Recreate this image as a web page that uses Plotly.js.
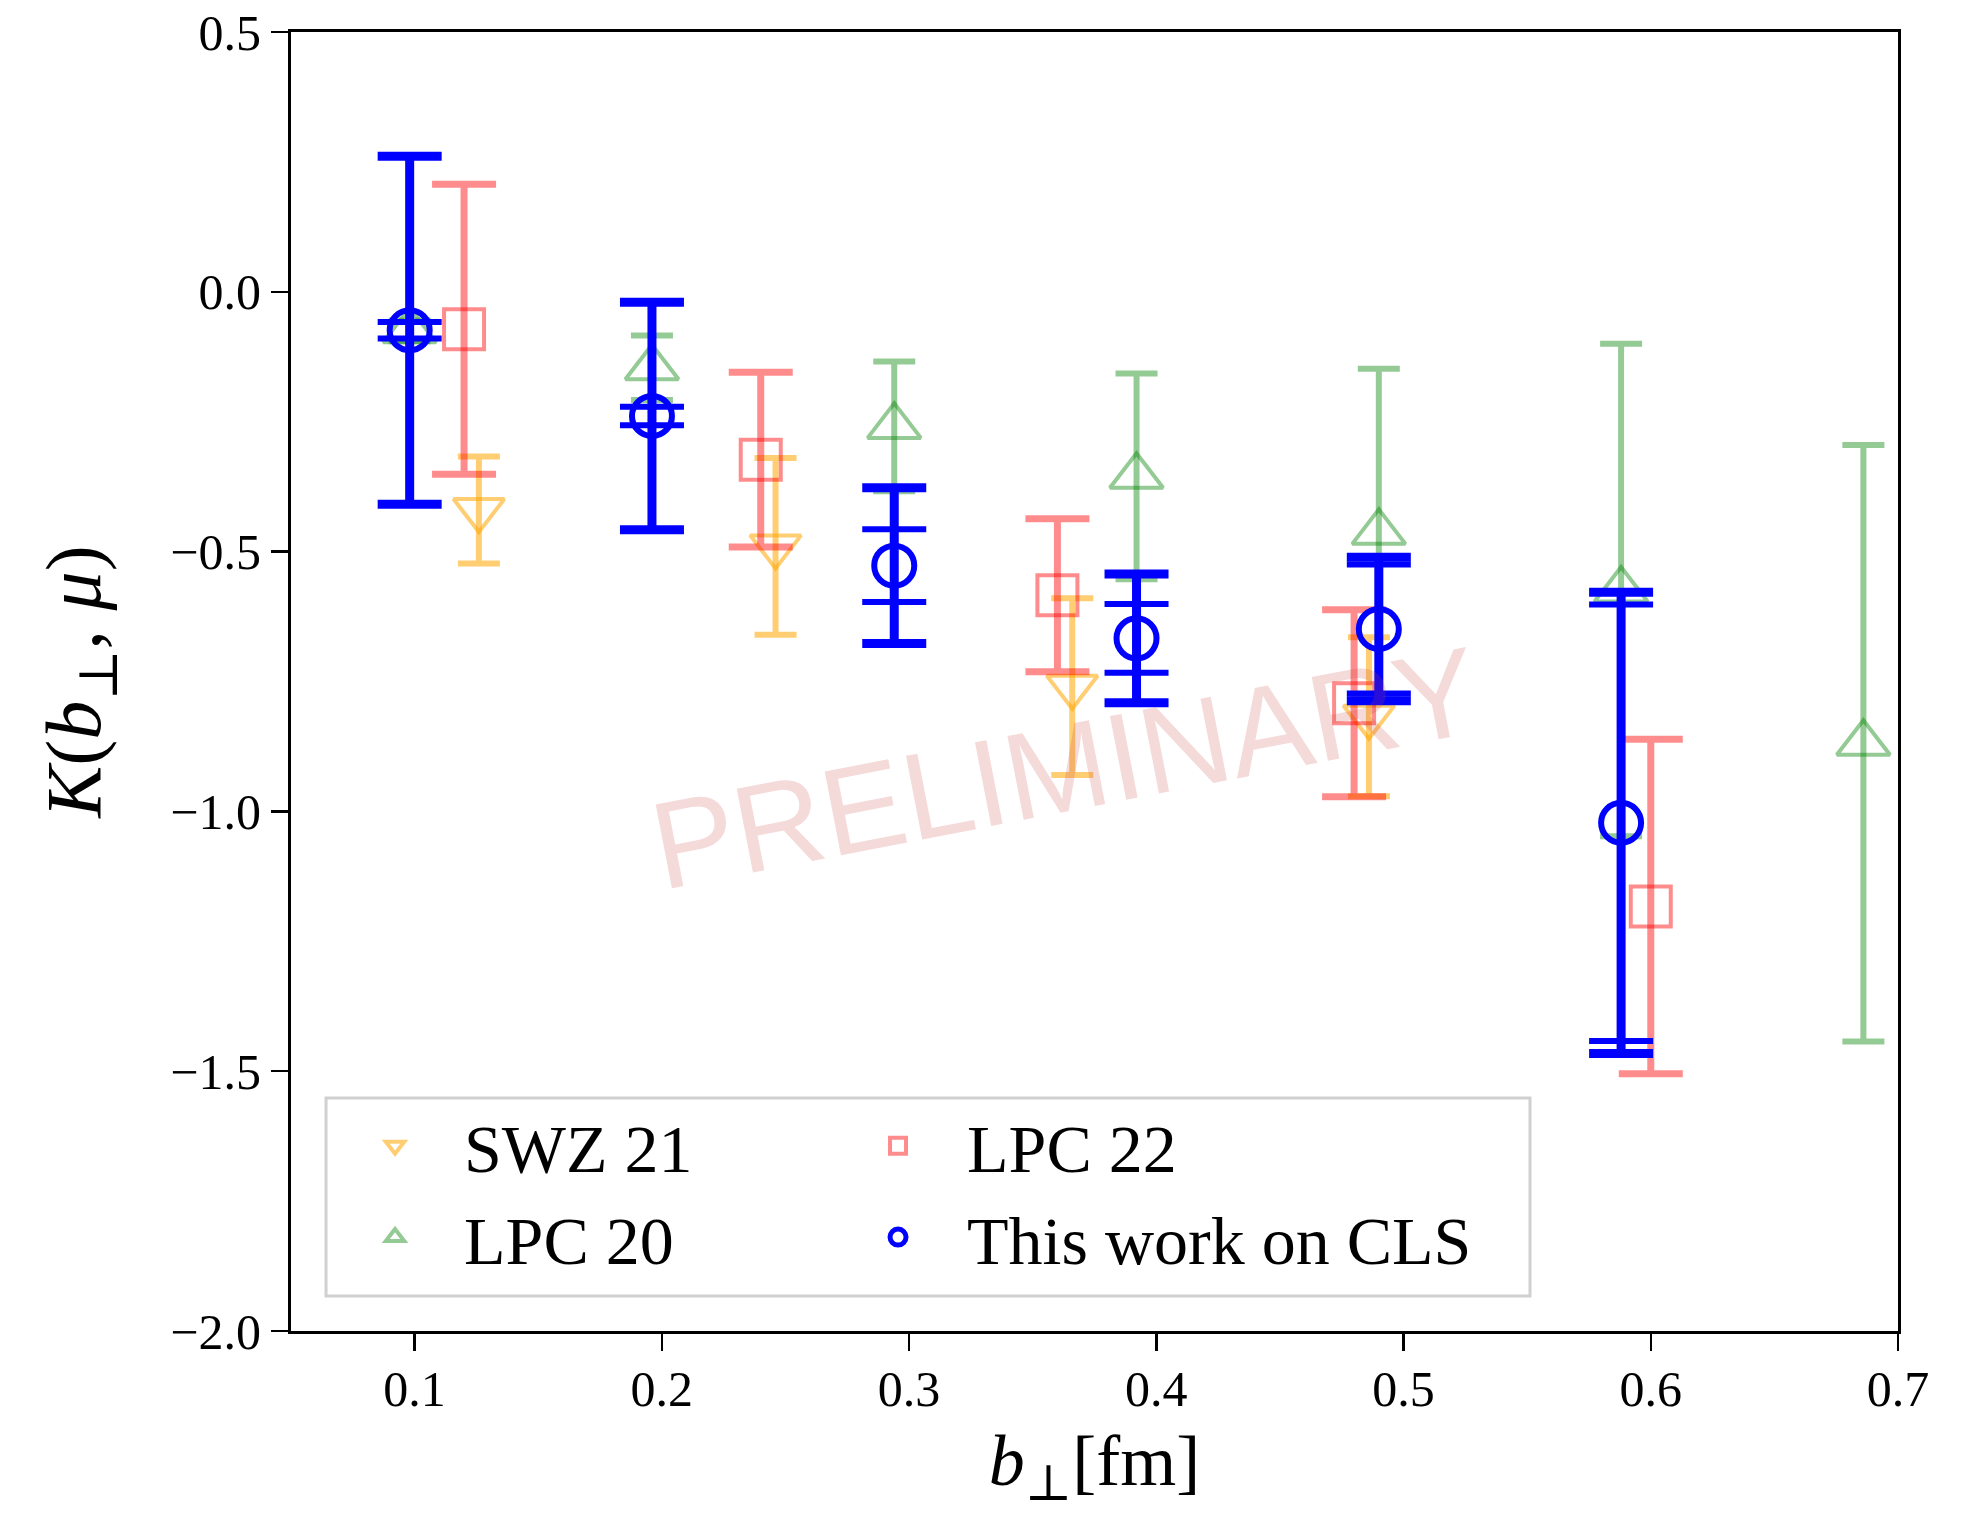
<!DOCTYPE html>
<html>
<head>
<meta charset="utf-8">
<script src="https://cdn.plot.ly/plotly-3.0.1.min.js"></script>
<style>
  html, body { margin: 0; padding: 0; background: #ffffff; }
  #chart { width: 1983px; height: 1513px; }
</style>
</head>
<body>
<div id="chart"></div>
<script>
// ---- Data ----
// SWZ 21
const xSWZ21 = [0.126, 0.246, 0.366, 0.486];
const ySWZ21 = [-0.420, -0.490, -0.760, -0.818];
const eSWZ21 = [0.103, 0.170, 0.170, 0.153];

// LPC 20
const xLPC20 = [0.098, 0.196, 0.294, 0.392, 0.490, 0.588, 0.686];
const yLPC20 = [-0.075, -0.146, -0.259, -0.355, -0.463, -0.574, -0.869];
const eLPC20 = [0.020, 0.062, 0.125, 0.198, 0.315, 0.474, 0.574];

// LPC 22
const xLPC22 = [0.120, 0.240, 0.360, 0.480, 0.600];
const yLPC22 = [-0.072, -0.323, -0.584, -0.792, -1.183];
const eLPC22 = [0.279, 0.168, 0.147, 0.180, 0.322];

// This work on CLS
const xCLS = [0.098, 0.196, 0.294, 0.392, 0.490, 0.588];
const yCLS = [-0.074, -0.239, -0.527, -0.667, -0.649, -1.022];
const eCLSTotal = [0.335, 0.219, 0.150, 0.124, 0.138, 0.444];
const eCLSInner = [0.016, 0.018, 0.070, 0.066, 0.124, 0.420];

const xTicks = [0.1, 0.2, 0.3, 0.4, 0.5, 0.6, 0.7];
const yTicks = [0.5, 0.0, -0.5, -1.0, -1.5, -2.0];

const serif = "Liberation Serif, DejaVu Serif, serif";

const cOrange = "rgba(255,165,0,0.55)";
const cGreen = "rgba(0,128,0,0.42)";
const cRed = "rgba(255,0,0,0.45)";
const cBlue = "#0000ff";

const traces = [
  {
    name: "SWZ 21", legend: "legend", legendrank: 1,
    x: xSWZ21, y: ySWZ21, type: "scatter", mode: "markers",
    marker: { symbol: "triangle-down-open", size: 44, color: cOrange, line: { color: cOrange, width: 4 } },
    error_y: { type: "data", array: eSWZ21, visible: true, color: cOrange, thickness: 6, width: 21 }
  },
  {
    name: "LPC 20", legend: "legend", legendrank: 2,
    x: xLPC20, y: yLPC20, type: "scatter", mode: "markers",
    marker: { symbol: "triangle-up-open", size: 46, color: cGreen, line: { color: cGreen, width: 4 } },
    error_y: { type: "data", array: eLPC20, visible: true, color: cGreen, thickness: 6, width: 21 }
  },
  {
    name: "LPC 22", legend: "legend2", legendrank: 1,
    x: xLPC22, y: yLPC22, type: "scatter", mode: "markers",
    marker: { symbol: "square-open", size: 40, color: cRed, line: { color: cRed, width: 4 } },
    error_y: { type: "data", array: eLPC22, visible: true, color: cRed, thickness: 7, width: 32 }
  },
  {
    name: "inner", showlegend: false,
    x: xCLS, y: yCLS, type: "scatter", mode: "markers",
    marker: { size: 1, color: "rgba(0,0,0,0)" },
    error_y: { type: "data", array: eCLSInner, visible: true, color: cBlue, thickness: 6, width: 32 }
  },
  {
    name: "This work on CLS", legend: "legend2", legendrank: 2,
    x: xCLS, y: yCLS, type: "scatter", mode: "markers",
    marker: { symbol: "circle-open", size: 40, color: cBlue, line: { color: cBlue, width: 6 } },
    error_y: { type: "data", array: eCLSTotal, visible: true, color: cBlue, thickness: 9, width: 32 }
  }
];

const legendCommon = {
  orientation: "v",
  yanchor: "bottom", xanchor: "left", y: 0.0331,
  bgcolor: "rgba(0,0,0,0)", borderwidth: 0,
  font: { family: serif, size: 68, color: "#000000" },
  itemwidth: 128,
  valign: "middle"
};

const layout = {
  width: 1983, height: 1513,
  paper_bgcolor: "#ffffff", plot_bgcolor: "#ffffff",
  margin: { l: 291, r: 85, t: 32, b: 182, pad: 0 },
  font: { family: serif, color: "#000000" },
  showlegend: true,
  legend: Object.assign({}, legendCommon, { x: 0.0218 }),
  legend2: Object.assign({}, legendCommon, { x: 0.3348 }),
  shapes: [
    {
      type: "rect", xref: "paper", yref: "paper", layer: "above",
      x0: 0.0218, x1: 0.7710, y0: 0.0269, y1: 0.1794,
      line: { color: "#d0d0d0", width: 3 },
      fillcolor: "rgba(255,255,255,0.8)"
    }
  ],
  xaxis: {
    range: [0.05, 0.7],
    tickmode: "array", tickvals: xTicks, ticktext: xTicks.map(v => v.toFixed(1)),
    ticks: "outside", ticklen: 17, tickwidth: 2.5, tickcolor: "#000000",
    showline: true, linecolor: "#000000", linewidth: 3, mirror: true,
    showgrid: false, zeroline: false,
    ticklabelstandoff: -5,
    tickfont: { family: serif, size: 50, color: "#000000" },
    title: { text: "<i>b</i><sub>⊥</sub>[fm]", font: { family: serif, size: 72, color: "#000000" }, standoff: 19 }
  },
  yaxis: {
    range: [-2.0, 0.5],
    tickmode: "array", tickvals: yTicks, ticktext: yTicks.map(v => (v < 0 ? "\u2212" : "") + Math.abs(v).toFixed(1)),
    ticks: "outside", ticklen: 17, tickwidth: 2.5, tickcolor: "#000000",
    showline: true, linecolor: "#000000", linewidth: 3, mirror: true,
    showgrid: false, zeroline: false,
    tickfont: { family: serif, size: 50, color: "#000000" },
    title: { text: "<i>K</i>(<i>b</i><sub>⊥</sub>, <i>μ</i>)", font: { family: serif, size: 78, color: "#000000" }, standoff: 44 }
  },
  annotations: [
    {
      text: "PRELIMINARY", xref: "paper", yref: "paper",
      x: 0.4817, y: 0.4334, xanchor: "center", yanchor: "middle",
      showarrow: false, textangle: -11,
      font: { family: "Liberation Sans, Arial, sans-serif", size: 124, color: "rgba(200,70,60,0.2)" }
    }
  ]
};

Plotly.newPlot("chart", traces, layout, { staticPlot: true, displayModeBar: false });
</script>
</body>
</html>
